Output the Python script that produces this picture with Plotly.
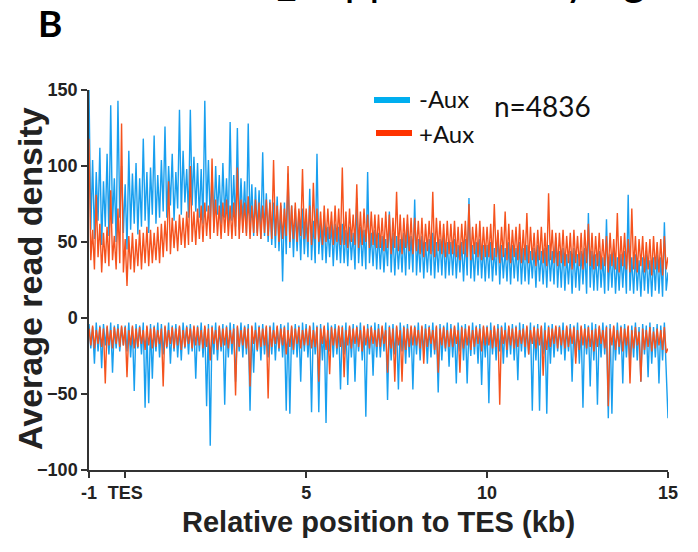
import numpy as np
import plotly.graph_objects as go

# Metagene profile around the TES: average read density per 50 bp bin,
# from -1 kb to +15 kb. Sense strand is positive, antisense negative.
BIN_KB = 0.05
START_KB = -1.0

# -Aux, sense strand (one row of 20 bins per kb, -1..15 kb, plus the last bin)
minus_aux_sense = [
    [150, 58, 104, 52, 96, 64, 112, 48, 90, 60, 108, 54, 140, 62, 92, 50, 143, 66, 100, 56],
    [88, 45, 110, 58, 95, 62, 102, 55, 92, 60, 118, 64, 96, 56, 99, 68, 120, 62, 94, 66],
    [104, 70, 126, 66, 100, 74, 108, 64, 96, 72, 137, 68, 110, 76, 98, 66, 137, 74, 106, 70],
    [102, 66, 98, 62, 143, 70, 104, 64, 96, 60, 100, 68, 94, 62, 102, 66, 92, 60, 129, 64],
    [94, 60, 125, 58, 92, 62, 90, 56, 128, 58, 88, 54, 86, 56, 84, 52, 109, 54, 82, 50],
    [78, 48, 76, 46, 80, 44, 74, 24, 76, 42, 95, 46, 74, 40, 72, 44, 70, 38, 72, 42],
    [66, 40, 85, 38, 64, 36, 108, 42, 62, 38, 66, 36, 60, 40, 64, 34, 62, 38, 60, 36],
    [62, 36, 58, 34, 60, 38, 56, 32, 79, 36, 60, 34, 58, 32, 96, 36, 56, 34, 58, 32],
    [56, 32, 54, 30, 52, 34, 70, 30, 56, 28, 54, 32, 52, 30, 56, 28, 62, 32, 54, 30],
    [78, 28, 52, 30, 54, 26, 50, 30, 52, 28, 56, 26, 50, 30, 52, 28, 54, 26, 50, 28],
    [50, 28, 52, 26, 48, 30, 50, 24, 52, 28, 79, 26, 48, 24, 50, 28, 52, 26, 48, 24],
    [48, 26, 50, 24, 46, 28, 56, 22, 48, 26, 46, 24, 50, 22, 48, 26, 46, 24, 50, 22],
    [46, 24, 48, 22, 44, 26, 46, 20, 48, 24, 44, 22, 46, 20, 48, 24, 44, 22, 53, 20],
    [44, 20, 46, 18, 42, 22, 44, 16, 46, 20, 42, 18, 44, 22, 46, 16, 69, 20, 44, 18],
    [42, 18, 44, 20, 40, 16, 65, 18, 42, 20, 44, 16, 40, 18, 42, 20, 44, 16, 81, 18],
    [40, 16, 42, 18, 38, 14, 40, 18, 42, 16, 38, 14, 40, 18, 42, 16, 40, 14, 63, 18],
    [30],
]

# +Aux, sense strand
plus_aux_sense = [
    [118, 38, 58, 32, 81, 40, 62, 30, 56, 36, 60, 34, 84, 38, 54, 32, 72, 36, 128, 30],
    [52, 21, 54, 32, 56, 30, 52, 34, 58, 32, 56, 36, 60, 34, 58, 36, 56, 38, 60, 36],
    [62, 40, 64, 44, 90, 42, 66, 46, 64, 44, 68, 48, 66, 46, 70, 48, 100, 50, 70, 48],
    [72, 52, 74, 50, 76, 54, 74, 52, 105, 56, 78, 54, 74, 52, 76, 56, 78, 54, 74, 52],
    [76, 54, 99, 52, 78, 56, 76, 54, 80, 52, 74, 56, 78, 54, 76, 52, 74, 56, 78, 54],
    [76, 52, 104, 54, 74, 50, 76, 52, 72, 54, 100, 50, 74, 52, 76, 50, 72, 54, 98, 52],
    [72, 50, 74, 48, 89, 52, 72, 50, 70, 48, 74, 50, 72, 52, 70, 48, 74, 50, 72, 48],
    [99, 48, 70, 46, 72, 50, 68, 48, 88, 46, 70, 48, 72, 50, 68, 46, 70, 48, 68, 46],
    [68, 46, 66, 44, 70, 46, 68, 42, 66, 46, 83, 44, 68, 42, 66, 46, 68, 44, 66, 42],
    [66, 44, 64, 42, 66, 40, 62, 44, 64, 42, 83, 40, 66, 44, 64, 42, 62, 40, 64, 42],
    [62, 42, 64, 40, 60, 38, 62, 42, 64, 40, 75, 38, 60, 42, 62, 40, 64, 38, 60, 40],
    [60, 40, 62, 38, 75, 40, 58, 36, 60, 40, 70, 38, 62, 36, 58, 40, 60, 38, 62, 36],
    [58, 38, 69, 36, 60, 38, 56, 34, 58, 38, 60, 36, 56, 34, 82, 38, 58, 36, 56, 34],
    [56, 36, 58, 34, 54, 36, 56, 32, 58, 36, 54, 34, 56, 32, 58, 36, 62, 34, 56, 32],
    [54, 34, 56, 32, 52, 34, 54, 30, 56, 34, 52, 32, 69, 30, 54, 34, 56, 32, 52, 30],
    [72, 32, 54, 30, 52, 34, 54, 30, 50, 32, 52, 28, 54, 32, 50, 30, 52, 28, 54, 32],
    [40],
]

# -Aux, antisense strand
minus_aux_antisense = [
    [-4, -20, -6, -30, -3, -22, -5, -33, -4, -18, -6, -24, -3, -36, -5, -20, -4, -22, -6, -18],
    [-5, -22, -3, -26, -6, -48, -4, -20, -5, -24, -3, -59, -6, -56, -4, -40, -5, -22, -3, -26],
    [-4, -24, -6, -20, -3, -30, -5, -22, -4, -26, -6, -28, -3, -20, -5, -24, -4, -22, -6, -40],
    [-5, -22, -3, -26, -6, -58, -4, -84, -5, -24, -3, -28, -6, -22, -4, -57, -5, -26, -3, -24],
    [-4, -42, -6, -22, -3, -26, -5, -24, -4, -61, -6, -36, -3, -22, -5, -28, -4, -24, -6, -26],
    [-5, -24, -3, -28, -6, -22, -4, -26, -5, -61, -3, -63, -6, -24, -4, -26, -5, -42, -3, -22],
    [-4, -26, -6, -62, -3, -24, -5, -62, -4, -28, -6, -69, -3, -22, -5, -26, -4, -24, -6, -47],
    [-5, -24, -3, -44, -6, -26, -4, -42, -5, -22, -3, -28, -6, -65, -4, -24, -5, -38, -3, -26],
    [-4, -26, -6, -22, -3, -54, -5, -28, -4, -24, -6, -47, -3, -22, -5, -30, -4, -26, -6, -47],
    [-5, -24, -3, -28, -6, -22, -4, -30, -5, -26, -3, -24, -6, -49, -4, -28, -5, -22, -3, -32],
    [-4, -26, -6, -43, -3, -22, -5, -28, -4, -43, -6, -25, -3, -24, -5, -30, -4, -44, -6, -26],
    [-5, -56, -3, -24, -6, -28, -4, -22, -5, -30, -3, -26, -6, -24, -4, -28, -5, -41, -3, -22],
    [-4, -26, -6, -24, -3, -61, -5, -28, -4, -61, -6, -24, -3, -63, -5, -30, -4, -26, -6, -22],
    [-5, -24, -3, -28, -6, -22, -4, -42, -5, -26, -3, -30, -6, -59, -4, -24, -5, -45, -3, -28],
    [-4, -57, -6, -26, -3, -24, -5, -66, -4, -63, -6, -28, -3, -24, -5, -43, -4, -26, -6, -30],
    [-5, -26, -3, -28, -6, -42, -4, -24, -5, -39, -3, -30, -6, -26, -4, -43, -5, -28, -3, -32],
    [-66],
]

# +Aux, antisense strand
plus_aux_antisense = [
    [-7, -18, -5, -20, -8, -17, -6, -19, -7, -43, -5, -18, -8, -20, -6, -17, -7, -19, -5, -18],
    [-6, -39, -8, -18, -5, -20, -7, -19, -6, -17, -8, -21, -5, -18, -7, -20, -6, -19, -8, -17],
    [-7, -45, -5, -19, -8, -17, -6, -20, -7, -18, -5, -21, -8, -19, -6, -17, -7, -20, -5, -18],
    [-6, -18, -8, -20, -5, -19, -7, -28, -6, -17, -8, -21, -5, -19, -7, -18, -6, -20, -8, -17],
    [-7, -51, -5, -19, -8, -18, -6, -20, -7, -45, -5, -17, -8, -21, -6, -19, -7, -18, -5, -53],
    [-6, -19, -8, -17, -5, -20, -7, -18, -6, -24, -8, -19, -5, -21, -7, -17, -6, -20, -8, -18],
    [-7, -18, -5, -20, -8, -19, -6, -42, -7, -17, -5, -21, -8, -37, -6, -18, -7, -20, -5, -19],
    [-6, -39, -8, -18, -5, -20, -7, -17, -6, -19, -8, -22, -5, -18, -7, -20, -6, -17, -8, -19],
    [-7, -19, -5, -17, -8, -36, -6, -20, -7, -42, -5, -18, -8, -42, -6, -21, -7, -19, -5, -18],
    [-6, -18, -8, -20, -5, -30, -7, -19, -6, -17, -8, -21, -5, -36, -7, -18, -6, -20, -8, -19],
    [-7, -19, -5, -17, -8, -36, -6, -20, -7, -18, -5, -21, -8, -19, -6, -17, -7, -22, -5, -18],
    [-6, -18, -8, -20, -5, -19, -7, -57, -6, -17, -8, -21, -5, -18, -7, -20, -6, -19, -8, -17],
    [-7, -19, -5, -24, -8, -17, -6, -20, -7, -18, -5, -38, -8, -21, -6, -19, -7, -17, -5, -20],
    [-6, -18, -8, -20, -5, -19, -7, -17, -6, -30, -8, -21, -5, -18, -7, -20, -6, -19, -8, -22],
    [-7, -19, -5, -17, -8, -20, -6, -58, -7, -18, -5, -21, -8, -19, -6, -22, -7, -18, -5, -43],
    [-8, -20, -6, -18, -9, -42, -7, -21, -8, -19, -6, -22, -9, -20, -7, -18, -8, -21, -6, -23],
    [-20],
]

tick_values = [-1, 0, 5, 10, 15]
tick_labels = ["-1", "TES", "5", "10", "15"]
y_ticks = [-100, -50, 0, 50, 100, 150]
series_names = ["-Aux", "+Aux"]
sample_size_label = "n=4836"

BLUE = "#189FEF"
RED = "#F5531E"
SWATCH_BLUE = "#00AEEF"
SWATCH_RED = "#FF3300"


def flatten(rows):
    return [v for row in rows for v in row]


def positions(n):
    return START_KB + BIN_KB * np.arange(n)


W, H = 698, 552
M_L, M_R, M_T, M_B = 89, 30, 90, 82
PW, PH = W - M_L - M_R, H - M_T - M_B


def px_x(x):
    return (x - M_L) / PW


def px_y(y):
    return (H - M_B - y) / PH


fig = go.Figure()
for rows, color in [
    (minus_aux_sense, BLUE),
    (minus_aux_antisense, BLUE),
    (plus_aux_sense, RED),
    (plus_aux_antisense, RED),
]:
    vals = flatten(rows)
    fig.add_trace(go.Scatter(
        x=positions(len(vals)), y=vals, mode="lines",
        line=dict(color=color, width=1.4), showlegend=False, hoverinfo="skip",
    ))

axis_style = dict(
    showgrid=False, zeroline=False, showline=True, linecolor="#333333", linewidth=1.5,
    ticks="outside", ticklen=6, tickwidth=1.5, tickcolor="#333333",
    tickfont=dict(family="Liberation Sans, Arial", size=18, color="#222222", weight="bold"),
)

fig.update_layout(
    width=W, height=H,
    margin=dict(l=M_L, r=M_R, t=M_T, b=M_B, pad=0),
    paper_bgcolor="white", plot_bgcolor="white",
    xaxis=dict(range=[-1, 15], tickvals=tick_values, ticktext=tick_labels, **axis_style),
    yaxis=dict(range=[-100, 150], tickvals=y_ticks, **axis_style),
    showlegend=False,
)

# Legend swatches drawn as thick bars
fig.add_shape(type="line", xref="paper", yref="paper",
              x0=px_x(374), x1=px_x(410), y0=px_y(100), y1=px_y(100),
              line=dict(color=SWATCH_BLUE, width=6))
fig.add_shape(type="line", xref="paper", yref="paper",
              x0=px_x(376), x1=px_x(412), y0=px_y(133), y1=px_y(133),
              line=dict(color=SWATCH_RED, width=6))

legend_font = dict(family="Lato, Open Sans", size=24, color="#111111")
annotations = [
    dict(text=series_names[0], x=px_x(417), y=px_y(99), xanchor="left", yanchor="middle", font=legend_font),
    dict(text=series_names[1], x=px_x(417), y=px_y(133), xanchor="left", yanchor="middle", font=legend_font),
    dict(text=sample_size_label, x=px_x(492), y=px_y(106), xanchor="left", yanchor="middle",
         font=dict(family="Lato, Open Sans", size=28, color="#111111")),
    dict(text="B", x=px_x(50), y=px_y(22), xanchor="center", yanchor="middle",
         font=dict(family="Lato, Open Sans", size=37, color="#000000", weight="bold")),
    # panel heading above the figure; only its lowest strokes fall inside the page
    dict(text="S4_Supplementary figure 2", x=px_x(225), y=px_y(6), xanchor="left", yanchor="bottom",
         font=dict(family="Lato, Open Sans", size=44, color="#000000")),
    dict(text="Relative position to TES (kb)", x=0.5, y=px_y(522), xanchor="center", yanchor="middle",
         font=dict(family="Liberation Sans, Arial", size=29, color="#222222", weight="bold")),
    dict(text="Average read density", x=px_x(30), y=px_y(279), xanchor="center", yanchor="middle",
         textangle=-90,
         font=dict(family="Liberation Sans, Arial", size=34, color="#222222", weight="bold")),
]
for a in annotations:
    fig.add_annotation(xref="paper", yref="paper", showarrow=False, **a)

fig.write_html("out.html")
